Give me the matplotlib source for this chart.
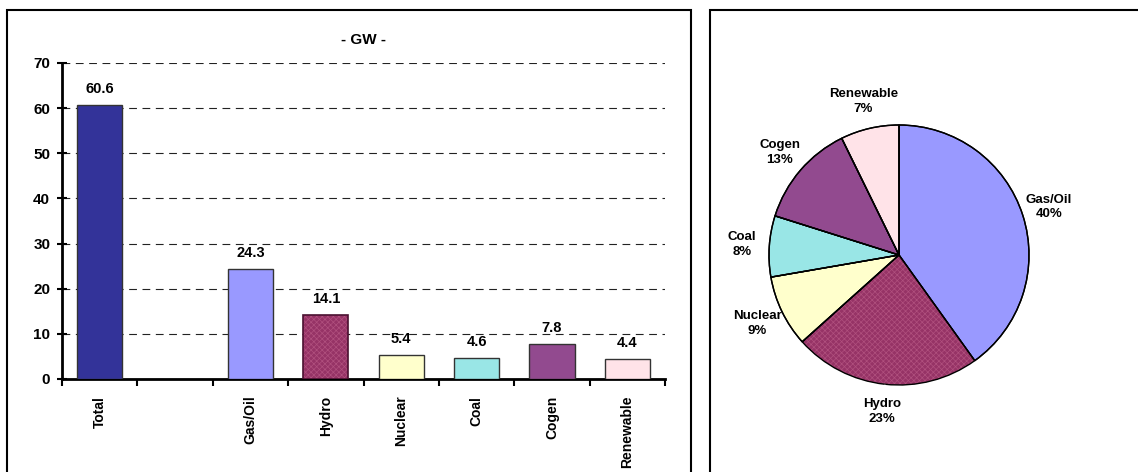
import numpy as np
import matplotlib
matplotlib.use("Agg")
import matplotlib.pyplot as plt
from matplotlib.patches import Rectangle

plt.rcParams['font.family'] = ['Liberation Sans', 'DejaVu Sans']
plt.rcParams['font.weight'] = 'bold'
plt.rcParams['hatch.linewidth'] = 0.5

# data
bar_labels = ["Total", "", "Gas/Oil", "Hydro", "Nuclear", "Coal", "Cogen", "Renewable"]
bar_values = [60.6, np.nan, 24.3, 14.1, 5.4, 4.6, 7.8, 4.4]
bar_colors = ["#333399", "none", "#9999FF", "#963366", "#FFFFCC", "#99E6E6", "#924A8F", "#FFE3E8"]
bar_hatch = [None, None, None, "xxxxxx", None, None, None, None]

pie_labels = ["Gas/Oil", "Hydro", "Nuclear", "Coal", "Cogen", "Renewable"]
pie_values = [24.3, 14.1, 5.4, 4.6, 7.8, 4.4]
pie_colors = ["#9999FF", "#963366", "#FFFFCC", "#99E6E6", "#924A8F", "#FFE3E8"]
pie_hatch = [None, "xxxxxx", None, None, None, None]
hatch_col = "#B0507E"

W, H = 1138, 472
fig = plt.figure(figsize=(W / 100, H / 100), dpi=100)

# panel frames
fig.patches.append(Rectangle((7 / W, -0.05), (691 - 7) / W, (472 - 10) / H + 0.05,
                             transform=fig.transFigure, fill=False, ec="black", lw=1.5))
fig.patches.append(Rectangle((710 / W, -0.05), 0.5, (472 - 10) / H + 0.05,
                             transform=fig.transFigure, fill=False, ec="black", lw=1.5))

# bar chart
ax = fig.add_axes([62 / W, (472 - 379) / H, (665 - 62) / W, (379 - 63) / H])
x = np.arange(len(bar_labels))
for i in range(len(bar_labels)):
    if np.isnan(bar_values[i]):
        continue
    if bar_hatch[i]:
        ax.bar(x[i], bar_values[i], width=0.6, color=bar_colors[i], edgecolor=hatch_col,
               linewidth=0, hatch=bar_hatch[i], zorder=3)
        ax.bar(x[i], bar_values[i], width=0.6, color="none", edgecolor="#4A1030",
               linewidth=1.2, zorder=4)
    else:
        ax.bar(x[i], bar_values[i], width=0.6, color=bar_colors[i], edgecolor="#333333",
               linewidth=1, zorder=3)
    ax.text(x[i], bar_values[i] + 2.0, f"{bar_values[i]:.1f}", ha="center", va="bottom",
            fontsize=10.5, fontweight="bold")

ax.set_xlim(-0.5, len(bar_labels) - 0.5)
ax.set_ylim(0, 70)
ax.set_yticks(np.arange(0, 71, 10))
ax.set_xticks(x)
ax.set_xticklabels(bar_labels, rotation=90, fontsize=10, fontweight="bold")
ax.set_xticks(np.arange(-0.5, len(bar_labels), 1), minor=True)
ax.tick_params(axis="x", which="major", length=0, pad=12)
ax.tick_params(axis="x", which="minor", length=5, width=1.5, direction="out")
ax.tick_params(axis="y", length=7, width=1.5, direction="inout", labelsize=11, pad=5)
for lbl in ax.get_yticklabels():
    lbl.set_fontweight("bold")
ax.yaxis.grid(True, linestyle=(0, (7, 5)), color="#222222", linewidth=0.8, zorder=0)
ax.spines[["top", "right"]].set_visible(False)
ax.spines[["left", "bottom"]].set_linewidth(2)
ax.set_title("- GW -", fontsize=11, fontweight="bold", pad=14)

# pie chart
r_px = 130
cx, cy = 899, 472 - 255
pax = fig.add_axes([(cx - r_px) / W, (cy - r_px) / H, 2 * r_px / W, 2 * r_px / H])
wedges, _ = pax.pie(pie_values, colors=pie_colors, startangle=90, counterclock=False,
                    wedgeprops=dict(edgecolor="black", linewidth=1))
for w, h in zip(wedges, pie_hatch):
    if h:
        w.set_hatch(h)
        w.set_edgecolor(hatch_col)
        w.set_linewidth(0)
        pax.pie(pie_values, colors=["none"] * len(pie_values), startangle=90,
                counterclock=False, wedgeprops=dict(edgecolor="black", linewidth=1))
total = sum(pie_values)
for w, lab, v in zip(wedges, pie_labels, pie_values):
    ang = np.deg2rad((w.theta1 + w.theta2) / 2)
    pax.text(1.21 * np.cos(ang), 1.21 * np.sin(ang), f"{lab}\n{v / total * 100:.0f}%",
             ha="center", va="center", fontsize=9.5, fontweight="bold", linespacing=1.3)
    if lab == "Hydro":
        pax.plot([np.cos(ang), 1.06 * np.cos(ang)], [np.sin(ang), 1.06 * np.sin(ang)],
                 color="#555555", lw=1)
pax.set_xlim(-1, 1)
pax.set_ylim(-1, 1)
pax.set_aspect("equal")
pax.axis("off")

fig.savefig("out.png", dpi=100)
